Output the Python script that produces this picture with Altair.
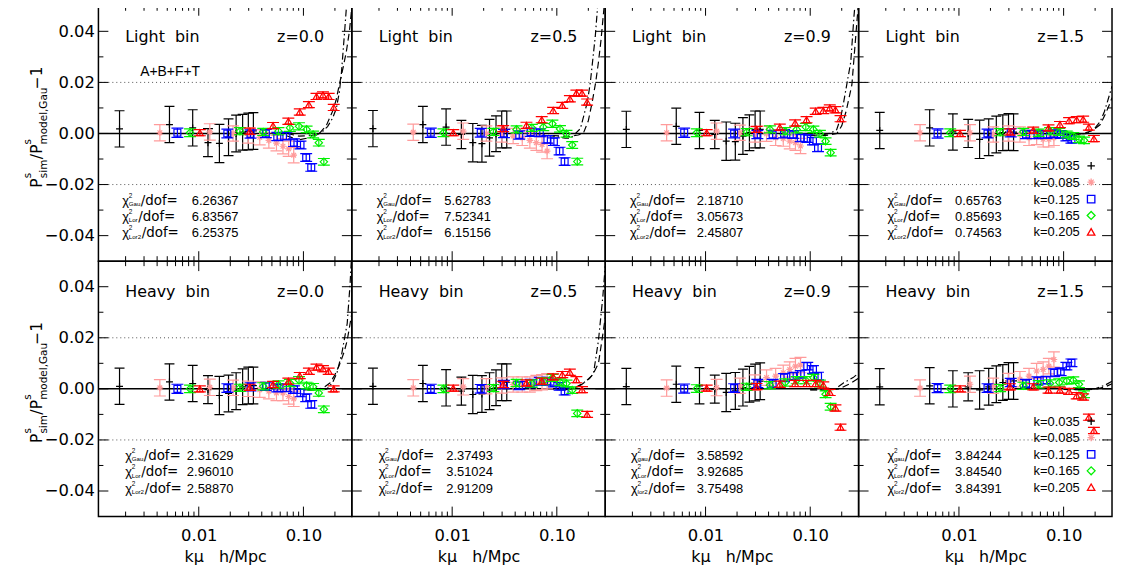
import altair as alt
import pandas as pd

XDOM = [0.0011, 0.29]
YDOM = [-0.05, 0.05]
PW, PH = 255, 257

# ---------------- data ----------------
series_names = ["k=0.035", "k=0.085", "k=0.125", "k=0.165", "k=0.205"]
series_colors = ["#000000", "#ff9b9b", "#0000ff", "#00f000", "#ff0000"]

kmu_035 = [0.00175, 0.00525, 0.00875, 0.01225, 0.01575, 0.01925, 0.02275, 0.02625, 0.02975, 0.03325]
kmu_085 = [0.00425, 0.01275, 0.02125, 0.02975, 0.03825, 0.04675, 0.05525, 0.06375, 0.07225, 0.08075]
kmu_125 = [0.00625, 0.01875, 0.03125, 0.04375, 0.05625, 0.06875, 0.08125, 0.09375, 0.10625, 0.11875]
kmu_165 = [0.00825, 0.02475, 0.04125, 0.05775, 0.07425, 0.09075, 0.10725, 0.12375, 0.14025, 0.15675]
kmu_205 = [0.01025, 0.03075, 0.05125, 0.07175, 0.09225, 0.11275, 0.13325, 0.15375, 0.17425, 0.19475]

err_035 = [0.0071, 0.0071, 0.0071, 0.0055, 0.0075, 0.0072, 0.0072, 0.0070, 0.0072, 0.0072]
err_085 = [0.0032, 0.0032, 0.0030, 0.0030, 0.0030, 0.0030, 0.0030, 0.0030, 0.0030, 0.0030]
err_125 = [0.0018, 0.0017, 0.0016, 0.0016, 0.0016, 0.0015, 0.0015, 0.0015, 0.0015, 0.0015]
err_165 = [0.0015, 0.0014, 0.0014, 0.0014, 0.0014, 0.0014, 0.0013, 0.0013, 0.0013, 0.0013]
err_205 = [0.0012, 0.0012, 0.0012, 0.0012, 0.0012, 0.0012, 0.0012, 0.0012, 0.0012, 0.0012]

# measured ratio values, per panel: [k035, k085, k125, k165, k205]
y_light_z00 = [
    [0.0018, 0.0035, 0.0022, -0.0036, -0.0039, -0.0015, 0.0000, 0.0005, 0.0008, 0.0010],
    [0.0003, 0.0006, 0.0000, -0.0008, -0.0015, -0.0027, -0.0038, -0.0050, -0.0060, -0.0085],
    [0.0003, 0.0000, -0.0002, 0.0000, -0.0012, -0.0010, -0.0036, -0.0045, -0.0094, -0.0133],
    [0.0003, 0.0009, 0.0006, 0.0009, 0.0022, 0.0028, 0.0016, -0.0004, -0.0036, -0.0111],
    [0.0003, 0.0009, 0.0031, 0.0048, 0.0084, 0.0113, 0.0145, 0.0151, 0.0145, 0.0102],
]
y_light_z05 = [
    [0.0019, 0.0035, 0.0025, -0.0004, -0.0036, -0.0040, -0.0017, -0.0001, 0.0016, 0.0016],
    [0.0005, 0.0009, 0.0000, -0.0004, -0.0010, -0.0017, -0.0027, -0.0036, -0.0043, -0.0069],
    [0.0003, 0.0003, 0.0000, -0.0006, 0.0005, 0.0003, -0.0023, -0.0032, -0.0069, -0.0110],
    [0.0003, 0.0006, 0.0016, 0.0022, 0.0025, 0.0038, 0.0018, -0.0001, -0.0045, -0.0110],
    [0.0003, 0.0019, 0.0032, 0.0054, 0.0090, 0.0110, 0.0136, 0.0158, 0.0158, 0.0123],
]
y_light_z09 = [
    [0.0016, 0.0028, 0.0012, -0.0004, -0.0030, -0.0032, -0.0010, 0.0003, 0.0016, 0.0016],
    [0.0003, 0.0009, 0.0003, -0.0004, -0.0001, -0.0017, -0.0020, -0.0030, -0.0036, -0.0049],
    [0.0003, 0.0000, -0.0004, -0.0004, -0.0001, -0.0004, -0.0017, -0.0020, -0.0030, -0.0056],
    [0.0003, 0.0005, 0.0016, 0.0009, 0.0016, 0.0025, 0.0016, -0.0001, -0.0030, -0.0075],
    [0.0003, 0.0016, 0.0025, 0.0041, 0.0054, 0.0087, 0.0090, 0.0100, 0.0093, 0.0058],
]
y_light_z15 = [
    [0.0012, 0.0022, 0.0006, 0.0000, -0.0023, -0.0015, -0.0004, 0.0003, 0.0006, 0.0005],
    [0.0003, 0.0003, -0.0004, 0.0000, -0.0004, -0.0017, -0.0014, -0.0023, -0.0023, -0.0017],
    [0.0000, 0.0000, 0.0003, -0.0004, -0.0004, -0.0004, -0.0001, -0.0004, -0.0014, -0.0023],
    [0.0003, 0.0005, 0.0006, 0.0003, 0.0009, 0.0006, -0.0004, -0.0010, -0.0023, -0.0027],
    [0.0000, 0.0006, 0.0013, 0.0022, 0.0035, 0.0050, 0.0054, 0.0056, 0.0025, -0.0020],
]
y_heavy_z00 = [
    [0.0010, 0.0027, 0.0021, -0.0003, -0.0026, -0.0018, -0.0009, 0.0008, 0.0013, 0.0013],
    [0.0004, 0.0006, 0.0004, 0.0000, -0.0003, -0.0009, -0.0016, -0.0016, -0.0030, -0.0039],
    [0.0000, 0.0003, 0.0008, 0.0010, 0.0004, 0.0004, -0.0003, -0.0016, -0.0035, -0.0061],
    [0.0000, 0.0004, 0.0010, 0.0017, 0.0023, 0.0034, 0.0013, 0.0008, -0.0016, -0.0080],
    [0.0000, 0.0006, 0.0017, 0.0030, 0.0052, 0.0069, 0.0085, 0.0079, 0.0069, 0.0000],
]
y_heavy_z05 = [
    [0.0010, 0.0021, 0.0004, -0.0009, -0.0022, -0.0020, -0.0009, 0.0004, 0.0026, 0.0026],
    [0.0004, 0.0008, 0.0010, 0.0013, 0.0017, 0.0017, 0.0017, 0.0023, 0.0026, 0.0030],
    [0.0000, 0.0000, 0.0017, 0.0013, 0.0021, 0.0030, 0.0030, 0.0023, 0.0010, -0.0009],
    [0.0000, 0.0003, 0.0023, 0.0021, 0.0030, 0.0043, 0.0026, 0.0021, -0.0005, -0.0096],
    [0.0003, 0.0017, 0.0023, 0.0030, 0.0047, 0.0056, 0.0065, 0.0036, -0.0003, -0.0100],
]
y_heavy_z09 = [
    [0.0009, 0.0018, 0.0012, -0.0001, -0.0014, -0.0008, 0.0005, 0.0018, 0.0025, 0.0030],
    [0.0003, 0.0005, 0.0012, 0.0025, 0.0044, 0.0050, 0.0063, 0.0076, 0.0089, 0.0093],
    [0.0001, 0.0003, 0.0021, 0.0021, 0.0044, 0.0050, 0.0057, 0.0089, 0.0076, 0.0050],
    [0.0001, 0.0008, 0.0014, 0.0025, 0.0034, 0.0034, 0.0044, 0.0021, -0.0021, -0.0070],
    [0.0003, 0.0009, 0.0018, 0.0021, 0.0021, 0.0021, 0.0015, -0.0014, -0.0075, -0.0150],
]
y_heavy_z15 = [
    [0.0008, 0.0012, 0.0000, 0.0008, -0.0004, 0.0008, 0.0018, 0.0025, 0.0031, 0.0031],
    [0.0003, 0.0018, 0.0012, 0.0031, 0.0038, 0.0050, 0.0070, 0.0076, 0.0089, 0.0115],
    [0.0003, 0.0003, 0.0025, 0.0021, 0.0031, 0.0034, 0.0063, 0.0067, 0.0089, 0.0102],
    [0.0000, 0.0003, 0.0012, 0.0018, 0.0021, 0.0025, 0.0031, 0.0034, 0.0018, -0.0021],
    [0.0000, 0.0008, 0.0008, -0.0005, -0.0005, -0.0010, -0.0027, -0.0032, -0.0111, -0.0163],
]

# model curves (dash-dot, dashed): kmu, ratio
cdd_light_z00 = ([0.05, 0.07, 0.09, 0.12, 0.15, 0.17, 0.19, 0.206, 0.22, 0.23, 0.246, 0.257, 0.265],
                 [0.0, -0.001, -0.0025, -0.0015, 0.0005, 0.0027, 0.006, 0.0097, 0.016, 0.023, 0.0385, 0.049, 0.06])
cda_light_z00 = ([0.07, 0.09, 0.12, 0.142, 0.165, 0.189, 0.205, 0.22, 0.24, 0.257, 0.275, 0.286, 0.295],
                 [0.0, -0.001, -0.0008, 0.0, 0.003, 0.0085, 0.013, 0.019, 0.026, 0.032, 0.04, 0.047, 0.053])
cdd_light_z05 = ([0.06, 0.09, 0.12, 0.135, 0.168, 0.196, 0.209, 0.233, 0.244, 0.252],
                 [0.0, -0.001, -0.0018, -0.0019, 0.0019, 0.0124, 0.02, 0.038, 0.0485, 0.058])
cda_light_z05 = ([0.09, 0.13, 0.16, 0.179, 0.2, 0.218, 0.235, 0.25, 0.265, 0.279, 0.29],
                 [-0.0008, -0.0012, -0.0006, 0.0, 0.005, 0.0124, 0.02, 0.028, 0.037, 0.047, 0.054])
cdd_light_z09 = ([0.07, 0.1, 0.135, 0.16, 0.179, 0.195, 0.209, 0.244, 0.262, 0.275],
                 [0.0, -0.0008, -0.0005, 0.0003, 0.0015, 0.006, 0.0124, 0.028, 0.046, 0.056])
cda_light_z09 = ([0.1, 0.14, 0.18, 0.2, 0.22, 0.25, 0.279, 0.29],
                 [-0.0006, -0.0008, 0.0, 0.003, 0.0086, 0.019, 0.0435, 0.052])
cdd_light_z15 = ([0.08, 0.12, 0.168, 0.2, 0.224, 0.245, 0.262, 0.29],
                 [0.0, -0.0004, 0.0, 0.0022, 0.0047, 0.0085, 0.0124, 0.0185])
cda_light_z15 = ([0.1, 0.15, 0.19, 0.224, 0.25, 0.275, 0.29],
                 [-0.0004, -0.0002, 0.0012, 0.0035, 0.0075, 0.0115, 0.014])
cdd_heavy_z00 = ([0.08, 0.12, 0.15, 0.168, 0.19, 0.209, 0.233, 0.262, 0.279, 0.29],
                 [0.0, -0.0005, -0.0003, 0.0, 0.0025, 0.0062, 0.014, 0.0256, 0.041, 0.054])
cda_heavy_z00 = ([0.1, 0.14, 0.16, 0.179, 0.2, 0.224, 0.245, 0.262, 0.29],
                 [-0.0004, -0.0002, 0.0008, 0.0023, 0.0055, 0.01, 0.0145, 0.019, 0.0295])
cdd_heavy_z05 = ([0.08, 0.12, 0.15, 0.179, 0.205, 0.224, 0.25, 0.275, 0.29],
                 [0.0, -0.0004, 0.0005, 0.0023, 0.004, 0.006, 0.019, 0.036, 0.048])
cda_heavy_z05 = ([0.1, 0.14, 0.17, 0.19, 0.22, 0.25, 0.279, 0.29],
                 [-0.0003, 0.0, 0.0015, 0.003, 0.0055, 0.01, 0.023, 0.028])
cdd_heavy_z09 = ([0.1, 0.14, 0.174, 0.209, 0.257, 0.29],
                 [-0.0003, -0.0004, 0.0, 0.0024, 0.0044, 0.0062])
cda_heavy_z09 = ([0.1, 0.15, 0.19, 0.24, 0.29],
                 [-0.0004, -0.0005, 0.0, 0.002, 0.0042])
cdd_heavy_z15 = ([0.1, 0.15, 0.2, 0.25, 0.29],
                 [0.0, -0.0003, 0.0, 0.0015, 0.003])
cda_heavy_z15 = ([0.1, 0.15, 0.2, 0.25, 0.29],
                 [-0.0002, -0.0004, -0.0002, 0.0008, 0.002])

chi_light_z00 = ["6.26367", "6.83567", "6.25375"]
chi_light_z05 = ["5.62783", "7.52341", "6.15156"]
chi_light_z09 = ["2.18710", "3.05673", "2.45807"]
chi_light_z15 = ["0.65763", "0.85693", "0.74563"]
chi_heavy_z00 = ["2.31629", "2.96010", "2.58870"]
chi_heavy_z05 = ["2.37493", "3.51024", "2.91209"]
chi_heavy_z09 = ["3.58592", "3.92685", "3.75498"]
chi_heavy_z15 = ["3.84244", "3.84540", "3.84391"]

sub_light = ["Gau", "Lor", "Lor2"]
sub_heavy_z00 = ["Gau", "Lor", "Lor2"]
sub_heavy_z05 = ["Gau", "Lor", "lor2"]
sub_heavy_z09 = ["gau", "Lor", "lor2"]
sub_heavy_z15 = ["gau", "Lor", "lor2"]

ytick_major = [-0.04, -0.02, 0.0, 0.02, 0.04]
ytick_minor = [-0.03, -0.01, 0.01, 0.03]
xtick_major = [0.01, 0.1]
xtick_minor = [0.002, 0.003, 0.004, 0.005, 0.006, 0.007, 0.008, 0.009,
               0.02, 0.03, 0.04, 0.05, 0.06, 0.07, 0.08, 0.09, 0.2]

PLUS = "M-1,0L1,0M0,-1L0,1"
STAR = "M-1,0L1,0M0,-1L0,1M-0.7,-0.7L0.7,0.7M-0.7,0.7L0.7,-0.7"
shapes = [PLUS, STAR, "square", "diamond", "triangle-up"]
sizes = [49, 45, 48, 55, 48]
caps = [10, 12, 12, 12, 12]

panels = [
    # (row, col, bin, z, yvals, curves, chi, subs, chi_x, val_x)
    (0, 0, "Light", "z=0.0", y_light_z00, (cdd_light_z00, cda_light_z00), chi_light_z00, sub_light, 24, 94),
    (0, 1, "Light", "z=0.5", y_light_z05, (cdd_light_z05, cda_light_z05), chi_light_z05, sub_light, 25, 93),
    (0, 2, "Light", "z=0.9", y_light_z09, (cdd_light_z09, cda_light_z09), chi_light_z09, sub_light, 25, 92),
    (0, 3, "Light", "z=1.5", y_light_z15, (cdd_light_z15, cda_light_z15), chi_light_z15, sub_light, 29, 97),
    (1, 0, "Heavy", "z=0.0", y_heavy_z00, (cdd_heavy_z00, cda_heavy_z00), chi_heavy_z00, sub_heavy_z00, 27, 89),
    (1, 1, "Heavy", "z=0.5", y_heavy_z05, (cdd_heavy_z05, cda_heavy_z05), chi_heavy_z05, sub_heavy_z05, 27, 95),
    (1, 2, "Heavy", "z=0.9", y_heavy_z09, (cdd_heavy_z09, cda_heavy_z09), chi_heavy_z09, sub_heavy_z09, 26, 92),
    (1, 3, "Heavy", "z=1.5", y_heavy_z15, (cdd_heavy_z15, cda_heavy_z15), chi_heavy_z15, sub_heavy_z15, 29, 97),
]

kmus = [kmu_035, kmu_085, kmu_125, kmu_165, kmu_205]
errs = [err_035, err_085, err_125, err_165, err_205]

ONE = pd.DataFrame({"a": [0]})
FONT_D = "DejaVu Sans"
FONT_L = "Liberation Sans"


def txt(s, x, y, size, font=FONT_L, align="left", angle=0, color="black"):
    kw = dict(text=s, fontSize=size, font=font, align=align, baseline="alphabetic", color=color)
    if angle:
        kw["angle"] = angle
    return alt.Chart(ONE).mark_text(**kw).encode(x=alt.value(x), y=alt.value(y))


def make_panel(row, col, binname, ztxt, yvals, curves, chi, subs, chi_x, val_x):
    if row == 1:
        xaxis = alt.Axis(values=xtick_major, format=".2f", ticks=False, domain=False, grid=False,
                         labelFont=FONT_D, labelFontSize=16.5, labelColor="black", labelPadding=11,
                         title="k\u03bc\u00a0\u00a0\u00a0h/Mpc", titleFont=FONT_D, titleFontSize=16,
                         titleFontWeight="normal", titleColor="black", titlePadding=5)
    else:
        xaxis = None
    if col == 0:
        yaxis = alt.Axis(values=ytick_major, format=".2f", ticks=False, domain=False, grid=False,
                         labelFont=FONT_D, labelFontSize=16.5, labelColor="black", labelPadding=4,
                         title=None)
    else:
        yaxis = None

    def X(f):
        return alt.X(f"{f}:Q", scale=alt.Scale(type="log", domain=XDOM, nice=False), axis=xaxis)

    def Y(f):
        return alt.Y(f"{f}:Q", scale=alt.Scale(domain=YDOM, nice=False, zero=False), axis=yaxis)

    layers = []
    layers.append(alt.Chart(pd.DataFrame({"x": [XDOM[0]], "y": [0.0]})).mark_point(opacity=0)
                  .encode(x=X("x"), y=Y("y")))
    layers.append(alt.Chart(pd.DataFrame({"v": [-0.02, 0.02]}))
                  .mark_rule(color="#555555", strokeWidth=1, strokeDash=[1, 3]).encode(y=Y("v")))
    layers.append(alt.Chart(pd.DataFrame({"v": [0.0]}))
                  .mark_rule(color="black", strokeWidth=1.5).encode(y=Y("v")))
    for (xs, ys), dash in zip(curves, ([7, 3, 1.5, 3], [7, 4])):
        layers.append(alt.Chart(pd.DataFrame({"x": xs, "y": ys}))
                      .mark_line(color="black", strokeWidth=1.2, strokeDash=dash, clip=True)
                      .encode(x=X("x"), y=Y("y")))
    for i in range(5):
        df = pd.DataFrame({"x": kmus[i], "y": yvals[i], "e": errs[i]})
        df["lo"] = df["y"] - df["e"]
        df["hi"] = df["y"] + df["e"]
        c = series_colors[i]
        layers.append(alt.Chart(df).mark_rule(color=c, strokeWidth=1.2, clip=True)
                      .encode(x=X("x"), y=Y("lo"), y2="hi"))
        caps_df = pd.DataFrame({"x": kmus[i] * 2, "c": list(df["lo"]) + list(df["hi"])})
        layers.append(alt.Chart(caps_df).mark_tick(orient="horizontal", size=caps[i], thickness=1.2,
                                                   color=c, opacity=1, clip=True)
                      .encode(x=X("x"), y=Y("c")))
        layers.append(alt.Chart(df).mark_point(shape=shapes[i], size=sizes[i], filled=False,
                                               strokeWidth=1.2, color=c, opacity=1, clip=True)
                      .encode(x=X("x"), y=Y("y")))
    for vals, L in ((ytick_major, 10), (ytick_minor, 5)):
        d = pd.DataFrame({"v": vals})
        layers.append(alt.Chart(d).mark_rule(color="black", strokeWidth=1)
                      .encode(y=Y("v"), x=alt.value(0), x2=alt.value(L)))
        layers.append(alt.Chart(d).mark_rule(color="black", strokeWidth=1)
                      .encode(y=Y("v"), x=alt.value(PW - L), x2=alt.value(PW)))
    for vals, L in ((xtick_major, 10), (xtick_minor, 5)):
        d = pd.DataFrame({"v": vals})
        layers.append(alt.Chart(d).mark_rule(color="black", strokeWidth=1)
                      .encode(x=X("v"), y=alt.value(PH - L), y2=alt.value(PH)))
        layers.append(alt.Chart(d).mark_rule(color="black", strokeWidth=1)
                      .encode(x=X("v"), y=alt.value(0), y2=alt.value(L)))

    layers.append(txt(binname + "\u00a0\u00a0bin", 27, 36, 16, font=FONT_D))
    layers.append(txt(ztxt, 227, 36, 16, font=FONT_D, align="right"))
    if row == 0 and col == 0:
        layers.append(txt("A+B+F+T", 42, 71, 14))
    rows_y = [200, 216.5, 233]
    dof_dx = {"Gau": 18.5, "gau": 17.3, "Lor": 16, "lor": 14, "Lor2": 19.5, "lor2": 17.5}
    for j in range(3):
        yb = rows_y[j]
        layers.append(txt("\u03c7", chi_x, yb, 13))
        layers.append(txt("2", chi_x + 6.5, yb - 7, 6.5))
        layers.append(txt(subs[j], chi_x + 6.5, yb + 1.5, 6.2))
        layers.append(txt("/dof=", chi_x + dof_dx[subs[j]], yb, 13.5, font=FONT_D))
        layers.append(txt(chi[j], val_x, yb, 13))
    if col == 3:
        leg_y = [165.5, 182, 199, 215.5, 232]
        for i in range(5):
            layers.append(txt(series_names[i], 176, leg_y[i], 13))
            layers.append(alt.Chart(ONE).mark_point(shape=shapes[i], size=sizes[i] + 8, filled=False,
                                                    strokeWidth=1.3, color=series_colors[i], opacity=1)
                          .encode(x=alt.value(234), y=alt.value(leg_y[i] - 4.5)))
    if col == 0:
        # rotated y title: P^s_sim / P^s_model,Gau - 1
        bx, supx, subx = -57, -68, -52
        layers.append(txt("P", bx, 183, 15.5, font=FONT_D, angle=270))
        layers.append(txt("s", supx, 173.5, 10.5, font=FONT_D, angle=270))
        layers.append(txt("sim", subx, 173.5, 10.5, font=FONT_D, angle=270))
        layers.append(txt("/", bx, 154.5, 15.5, font=FONT_D, angle=270))
        layers.append(txt("P", bx, 149, 15.5, font=FONT_D, angle=270))
        layers.append(txt("s", supx, 139.5, 10.5, font=FONT_D, angle=270))
        layers.append(txt("model,Gau", subx, 139.5, 10.5, font=FONT_D, angle=270))
        layers.append(txt("\u22121", bx, 84, 15.5, font=FONT_D, angle=270))
        layers.append(alt.Chart(ONE).mark_rule(strokeOpacity=0, strokeWidth=1)
                      .encode(x=alt.value(-90), x2=alt.value(-89), y=alt.value(100)))

    return alt.layer(*layers).properties(width=PW, height=PH)


charts = [make_panel(*p) for p in panels]
chart = alt.concat(*charts, columns=4, spacing=0, bounds="flush").properties(
    padding={"left": 0, "top": -6, "right": 0, "bottom": 0}
).configure_view(stroke="black", strokeWidth=1.5)

chart.save("out.html", embed_options={"renderer": "svg", "actions": False})
